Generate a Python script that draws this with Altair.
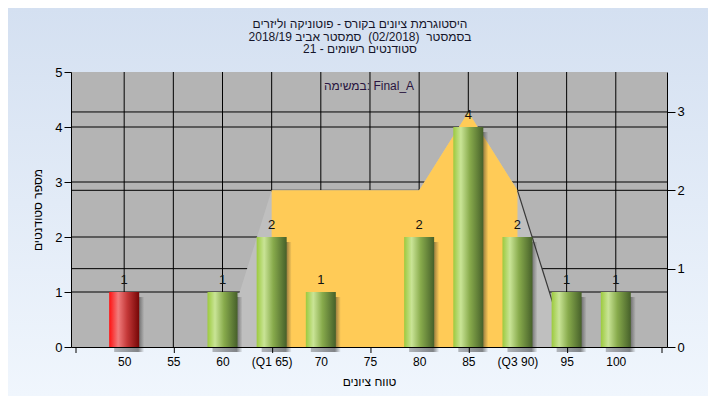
import altair as alt
import pandas as pd

# ---- data ----
grades = [50, 55, 60, 65, 70, 75, 80, 85, 90, 95, 100]
tick_labels = ["50", "55", "60", "(Q1 65)", "70", "75", "80", "85", "(Q3 90)", "95", "100"]
counts = [1, 0, 1, 2, 1, 0, 2, 4, 2, 1, 1]
curve = [0, 0, 0, 2, 2, 2, 2, 3, 2, 0, 0]
q1, q3 = 65, 90
fail_below = 55
left_ticks = [0, 1, 2, 3, 4, 5]
left_grid = [1, 2, 3, 4]
right_ticks = [0, 1, 2, 3]
right_grid = [1, 2, 3]
minor_ticks = [45.1, 55.1, 65.1, 75.1, 85.1, 95.1, 104.7]

title_lines = [
    "היסטוגרמת ציונים בקורס - פוטוניקה וליזרים",
    "בסמסטר \u00a0(02/2018) \u00a0סמסטר אביב 2018/19",
    "סטודנטים רשומים - 21",
]
subtitle = "במשימה: Final_A"
x_title = "טווח ציונים"
y_title = "מספר סטודנטים"

FONT = "Liberation Sans"
W, H = 596, 275
PAD = {"left": 63, "top": 64, "right": 41, "bottom": 49}

df = pd.DataFrame({"grade": grades, "count": counts, "curve": curve, "label": tick_labels})
df["kind"] = ["fail" if g < fail_below else "pass" for g in grades]
ticks_df = pd.DataFrame({"grade": minor_ticks})
sub_df = pd.DataFrame({"t": [subtitle]})
one = pd.DataFrame({"k": [0]})
lgrid_df = pd.DataFrame({"v": left_grid})
rgrid_df = pd.DataFrame({"v": right_grid})

label_expr = "".join(f"datum.value == {g} ? '{l}' : " for g, l in zip(grades, tick_labels)) + "''"

xscale = alt.Scale(domain=[45.1, 104.7], nice=False, zero=False)
xaxis = alt.Axis(
    values=grades, labelExpr=label_expr, title=x_title, grid=False,
    tickSize=0, labelPadding=9, labelFontSize=12, titlePadding=9,
    labelFlush=False, labelOverlap=False, zindex=1,
)
X = alt.X("grade:Q", scale=xscale, axis=xaxis)

lscale = alt.Scale(domain=[0, 5], nice=False)
rscale = alt.Scale(domain=[0, 3.51], nice=False, zero=True)

raxis = alt.Axis(orient="right", values=right_ticks, grid=False, title=None,
                 tickSize=8, labelPadding=2, format="d", labelFontSize=13, zindex=1)
laxis = alt.Axis(orient="left", values=left_ticks, grid=False, title=y_title,
                 tickSize=7, labelPadding=2, format="d", labelFontSize=13, titlePadding=10, zindex=1)
yR = alt.Y("curve:Q", scale=rscale, axis=raxis)
yL = alt.Y("count:Q", scale=lscale, axis=laxis)


def grad(stops, vertical=False):
    return alt.Gradient(
        gradient="linear", x1=0, x2=0 if vertical else 1, y1=0, y2=1 if vertical else 0,
        stops=[alt.GradientStop(color=c, offset=o) for o, c in stops],
    )


green = grad([(0, "#9cca3e"), (0.25, "#c9e496"), (0.55, "#88ab4c"), (1, "#46602a")])
red = grad([(0, "#ff1010"), (0.3, "#f07c7c"), (0.6, "#c43838"), (1, "#760606")])
shadow = grad([(0, "rgba(40,40,40,0.3)"), (0.8, "rgba(40,40,40,0.55)"), (1, "rgba(40,40,40,0)")])
bg = grad([(0, "#d4e0f1"), (1, "#f0f6fd")], vertical=True)

# ---- layer A: page background, plot area, grid on the left scale ----
bg_rect = alt.Chart(one).mark_rect(color=bg).encode(
    x=alt.value(-PAD["left"]), x2=alt.value(W + PAD["right"]),
    y=alt.value(-PAD["top"]), y2=alt.value(H + PAD["bottom"]))
plot_rect = alt.Chart(one).mark_rect(color="#b4b4b4").encode(
    x=alt.value(0), x2=alt.value(W), y=alt.value(0), y2=alt.value(H))
vgrid = alt.Chart(df).mark_rule(color="black", strokeWidth=1).encode(
    x=X, y=alt.value(0), y2=alt.value(H))
hgrid_l = alt.Chart(lgrid_df).mark_rule(color="black", strokeWidth=1).encode(
    y=alt.Y("v:Q", scale=lscale, axis=None), x=alt.value(0), x2=alt.value(W))
layer_a = alt.layer(bg_rect, plot_rect, vgrid, hgrid_l)

# ---- layer B: right scale grid and the distribution area ----
base = alt.Chart(df)
hgrid_r = alt.Chart(rgrid_df).mark_rule(color="black", strokeWidth=1).encode(
    y=alt.Y("v:Q", scale=rscale, axis=raxis), x=alt.value(0), x2=alt.value(W))
gray_area = base.mark_area(color="#bfbfbf", interpolate="linear").encode(x=X, y=yR)
iqr_area = base.transform_filter(f"datum.grade >= {q1} && datum.grade <= {q3}").mark_area(
    color="#ffcb57", interpolate="linear").encode(x=X, y=yR)
edge_line = base.transform_filter(f"datum.grade >= {q3} && datum.grade <= {q3 + 5}").mark_line(
    color="#383838", strokeWidth=1.2).encode(x=X, y=yR)
layer_b = alt.layer(hgrid_r, gray_area, iqr_area, edge_line)

# ---- layer C: bars on the left scale ----
nonzero = base.transform_filter("datum.count > 0")
bar_shadow = nonzero.mark_bar(size=30, xOffset=5, yOffset=5, color=shadow).encode(x=X, y=yL)
bars_red = nonzero.transform_filter("datum.kind == 'fail'").mark_bar(size=30, color=red).encode(x=X, y=yL)
bars_green = nonzero.transform_filter("datum.kind == 'pass'").mark_bar(size=30, color=green).encode(x=X, y=yL)
bar_text = nonzero.mark_text(baseline="alphabetic", dy=-8, fontSize=13, font=FONT, color="#111111").encode(
    x=X, y=yL, text="count:Q")
minor = alt.Chart(ticks_df).mark_rule(color="black").encode(x=X, y=alt.value(H), y2=alt.value(H + 6))
sub = alt.Chart(sub_df).mark_text(fontSize=12, font=FONT, color="#2a1440").encode(
    x=alt.value(W / 2), y=alt.value(14), text="t:N")
layer_c = alt.layer(bar_shadow, bars_red, bars_green, bar_text, minor, sub)

chart = (
    alt.layer(layer_a, layer_b, layer_c)
    .resolve_scale(y="independent")
    .properties(
        width=W, height=H,
        title=alt.Title(text=title_lines, anchor="middle", dx=-9, offset=16 - PAD["top"], fontSize=12,
                        font=FONT, fontWeight="normal", color="#15152a", lineHeight=12.5, zindex=1),
        padding=PAD,
        autosize=alt.AutoSizeParams(type="none"),
        background="#e3ecf7",
    )
    .configure_view(stroke=None)
    .configure_axis(
        domainColor="black", tickColor="black", labelColor="black", labelFont=FONT,
        titleFont=FONT, titleFontSize=12, titleFontWeight="normal", titleColor="black",
        domainWidth=1,
    )
)

chart.save("out.html", embed_options={"renderer": "svg", "actions": False})
